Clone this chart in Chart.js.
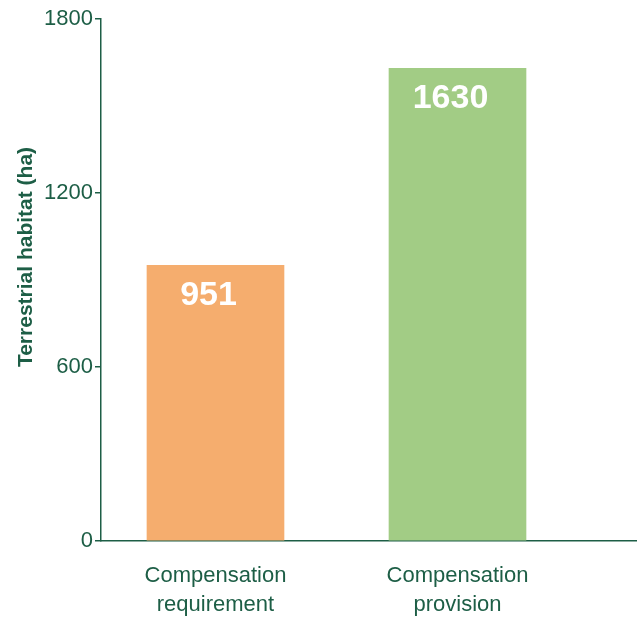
<!DOCTYPE html>
<html><head><meta charset="utf-8">
<script src="https://cdn.jsdelivr.net/npm/chart.js@4/dist/chart.umd.min.js"></script>
<style>html,body{margin:0;padding:0;background:#fff}#wrap{width:638px;height:621px}</style>
</head><body><div id="wrap"><canvas id="c" width="638" height="621"></canvas></div>
<script>
const categories = ['Compensation requirement', 'Compensation provision'];
const values = [951, 1630];
const barColors = ['#F5AD6E', '#A2CC85'];
const yTicks = [0, 600, 1200, 1800];
const yTitle = 'Terrestrial habitat (ha)';

const GREEN = '#1D5E46';
const FONT = '"Liberation Sans", Arial, Helvetica, sans-serif';

const labelPlugin = {
  id: 'barLabels',
  afterDatasetsDraw(chart) {
    const ctx = chart.ctx;
    const meta = chart.getDatasetMeta(0);
    ctx.save();
    ctx.fillStyle = '#ffffff';
    ctx.font = 'bold 34px ' + FONT;
    ctx.textAlign = 'center';
    ctx.textBaseline = 'alphabetic';
    meta.data.forEach((bar, i) => {
      ctx.fillText(String(values[i]), bar.x - 7, bar.y + 40);
    });
    ctx.restore();
  }
};

const yTitlePlugin = {
  id: 'yTitle',
  afterDraw(chart) {
    const ctx = chart.ctx;
    ctx.save();
    ctx.translate(26, 257);
    ctx.rotate(-Math.PI / 2);
    ctx.fillStyle = GREEN;
    ctx.font = 'bold 21px ' + FONT;
    ctx.textAlign = 'center';
    ctx.textBaseline = 'middle';
    ctx.fillText(yTitle, 0, 0);
    ctx.restore();
  }
};

new Chart(document.getElementById('c'), {
  type: 'bar',
  data: {
    datasets: [{
      data: values.map((v, i) => ({ x: i, y: v })),
      backgroundColor: barColors,
      borderWidth: 0,
      barThickness: 137
    }]
  },
  options: {
    responsive: false,
    animation: false,
    devicePixelRatio: 1,
    layout: { padding: { top: 19, right: 2, left: 0, bottom: 0 } },
    plugins: { legend: { display: false }, tooltip: { enabled: false } },
    scales: {
      x: {
        type: 'linear',
        offset: false,
        min: -0.4731,
        max: 1.7376,
        afterBuildTicks: s => { s.ticks = categories.map((_, i) => ({ value: i })); },
        afterFit: s => { s.height = 80; },
        grid: { display: false, drawTicks: false, tickLength: 0 },
        border: { display: true, color: GREEN, width: 1.5 },
        ticks: {
          color: GREEN,
          font: { family: FONT, size: 22, lineHeight: 1.32 },
          padding: 20,
          maxRotation: 0,
          autoSkip: false,
          callback: v => {
            const s = categories[v];
            if (!s) return '';
            const k = s.indexOf(' ');
            return [s.slice(0, k), s.slice(k + 1)];
          }
        }
      },
      y: {
        min: 0,
        max: 1800,
        afterBuildTicks: s => { s.ticks = yTicks.map(v => ({ value: v })); },
        afterFit: s => { s.width = 101; },
        grid: { display: true, drawOnChartArea: false, drawTicks: true, tickLength: 6, color: GREEN, lineWidth: 1.5 },
        border: { display: true, color: GREEN, width: 1.5 },
        ticks: { color: GREEN, font: { family: FONT, size: 22 }, padding: 2, callback: v => String(v) }
      }
    }
  },
  plugins: [labelPlugin, yTitlePlugin]
});
</script>
</body></html>
